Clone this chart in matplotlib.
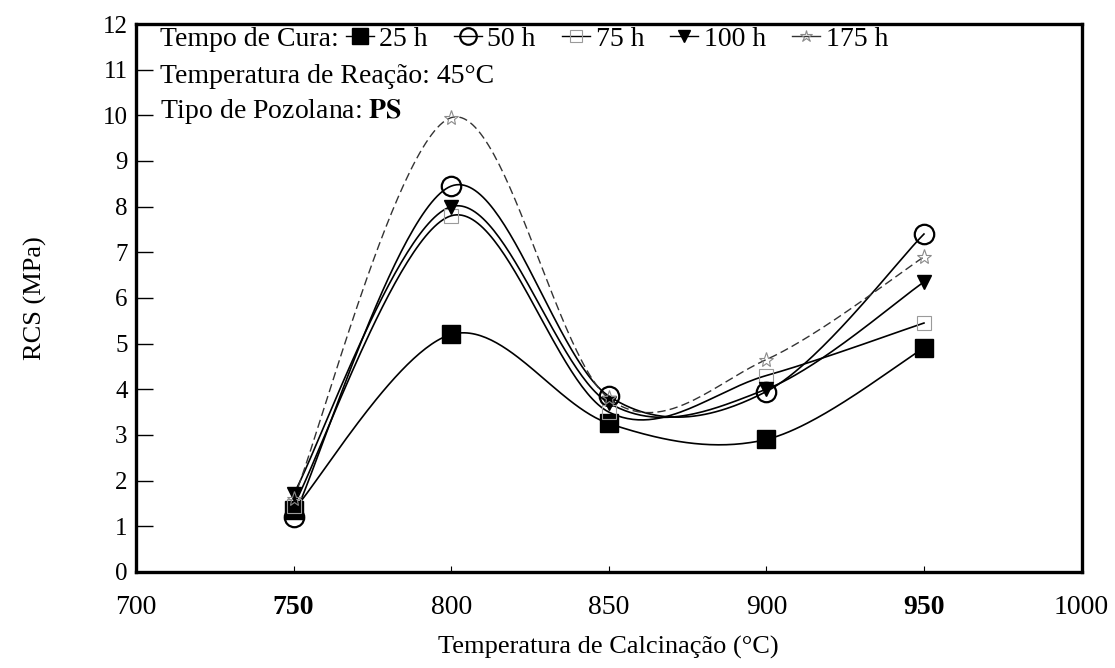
import numpy as np
import matplotlib
matplotlib.use("Agg")
import matplotlib.pyplot as plt
from matplotlib.lines import Line2D

plt.rcParams['font.family'] = ['Liberation Serif', 'DejaVu Serif']
plt.rcParams['mathtext.fontset'] = 'stix'

# Calcination temperature (°C)
temperatures = [750, 800, 850, 900, 950]

# Compressive strength RCS (MPa) for each curing time
rcs_25h = [1.35, 5.2, 3.25, 2.9, 4.9]
rcs_50h = [1.2, 8.45, 3.85, 3.95, 7.4]
rcs_75h = [1.45, 7.8, 3.5, 4.3, 5.45]
rcs_100h = [1.7, 8.0, 3.7, 4.0, 6.35]
rcs_175h = [1.6, 9.95, 3.8, 4.65, 6.9]

series_labels = ['25 h', '50 h', '75 h', '100 h', '175 h']

x_ticks = [700, 750, 800, 850, 900, 950, 1000]
bold_x_ticks = [750, 950]
y_ticks = list(range(0, 13))


def smooth_curve(xs, ys, n=60):
    """Bezier smoothing through every point (control points at 1/6 of the neighbour chord)."""
    p = np.column_stack([xs, ys]).astype(float)
    pts = [p[0]]
    m = len(p)
    for i in range(m - 1):
        p0 = p[i - 1] if i > 0 else p[i]
        p1 = p[i]
        p2 = p[i + 1]
        p3 = p[i + 2] if i + 2 < m else p[i + 1]
        c1 = p1 + (p2 - p0) / 6.0
        c2 = p2 - (p3 - p1) / 6.0
        t = np.linspace(0, 1, n)[1:, None]
        seg = ((1 - t) ** 3) * p1 + 3 * ((1 - t) ** 2) * t * c1 + 3 * (1 - t) * t ** 2 * c2 + t ** 3 * p2
        pts.extend(seg)
    pts = np.array(pts)
    return pts[:, 0], pts[:, 1]


fig = plt.figure(figsize=(11.15, 6.68), dpi=100)
ax = fig.add_axes([0.122, 0.144, 0.848, 0.820])

styles = [
    dict(data=rcs_25h, marker='s', ms=13, mfc='black', mec='black', mew=1.0,
         color='black', lw=1.2, ls='-'),
    dict(data=rcs_50h, marker='o', ms=14, mfc='none', mec='black', mew=1.6,
         color='black', lw=1.2, ls='-'),
    dict(data=rcs_75h, marker='s', ms=10, mfc='none', mec='#9a9a9a', mew=0.8,
         color='black', lw=1.2, ls='-'),
    dict(data=rcs_100h, marker='v', ms=10, mfc='black', mec='black', mew=1.0,
         color='black', lw=1.2, ls='-'),
    dict(data=rcs_175h, marker='*', ms=11, mfc='none', mec='#8a8a8a', mew=0.8,
         color='#333333', lw=1.0, ls=(0, (6, 3))),
]

handles = []
for st, lab in zip(styles, series_labels):
    sx, sy = smooth_curve(temperatures, st['data'])
    ax.plot(sx, sy, color=st['color'], lw=st['lw'], ls=st['ls'], zorder=2)
    ax.plot(temperatures, st['data'], ls='none', marker=st['marker'], ms=st['ms'],
            mfc=st['mfc'], mec=st['mec'], mew=st['mew'], zorder=3)
    handles.append(Line2D([], [], color=st['color'], lw=1.0, ls='-',
                          marker=st['marker'], ms=st['ms'] * 0.85, mfc=st['mfc'],
                          mec=st['mec'], mew=st['mew']))

ax.set_xlim(700, 1000)
ax.set_ylim(0, 12)
ax.set_xticks(x_ticks)
ax.set_yticks(y_ticks)
ax.set_xticklabels([str(v) for v in x_ticks], fontsize=20)
for lbl, v in zip(ax.get_xticklabels(), x_ticks):
    if v in bold_x_ticks:
        lbl.set_fontweight('bold')
ax.set_yticklabels([str(v) for v in y_ticks], fontsize=18)
ax.tick_params(axis='y', direction='in', length=12, width=1.0, pad=6)
ax.tick_params(axis='x', direction='in', length=4, width=0.8, pad=17)

for sp in ax.spines.values():
    sp.set_linewidth(2.4)

ax.set_ylabel('RCS (MPa)', fontsize=19, labelpad=40)
ax.set_xlabel('Temperatura de Calcinação (°C)', fontsize=19, labelpad=11)

# Experimental conditions written inside the plot
ax.text(0.025, 0.972, 'Tempo de Cura:', transform=ax.transAxes, fontsize=20,
        va='center', ha='left')
ax.text(0.025, 0.905, 'Temperatura de Reação: 45°C', transform=ax.transAxes,
        fontsize=20, va='center', ha='left')
ax.text(0.025, 0.840, 'Tipo de Pozolana: $\\mathbf{PS}$', transform=ax.transAxes,
        fontsize=20, va='center', ha='left')

ax.legend(handles, series_labels, ncol=5, loc='center left',
          bbox_to_anchor=(0.222, 0.972), frameon=False, fontsize=20,
          handlelength=1.0, handletextpad=0.2, columnspacing=0.95,
          borderpad=0, borderaxespad=0)

fig.savefig('out.png', dpi=100, facecolor='white')
